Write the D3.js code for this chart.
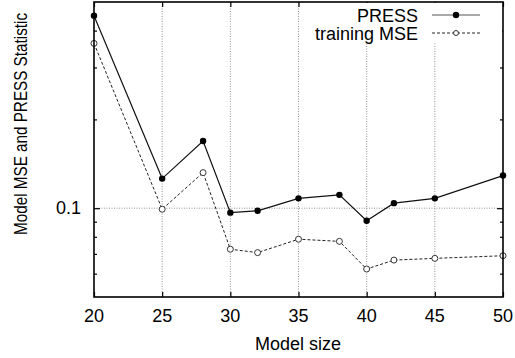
<!DOCTYPE html>
<html>
<head>
<meta charset="utf-8">
<script src="https://cdn.jsdelivr.net/npm/d3@7"></script>
<style>
  body { margin: 0; background: #fff; }
  text { font-family: "Liberation Sans", Arial, Helvetica, sans-serif; fill: #000; }
</style>
</head>
<body>
<div id="chart"></div>
<script>
var modelSize = [20, 25, 28, 30, 32, 35, 38, 40, 42, 45, 50];
var pressValues = [0.449, 0.126, 0.169, 0.0966, 0.098, 0.108, 0.111, 0.0907, 0.104, 0.108, 0.129];
var trainingValues = [0.362, 0.0992, 0.132, 0.0726, 0.0707, 0.0785, 0.0772, 0.0622, 0.0667, 0.0676, 0.069];
var xTicks = [20, 25, 30, 35, 40, 45, 50];
var yMajorTicks = [0.1];
var yMinorTicks = [0.06, 0.07, 0.08, 0.09, 0.2, 0.3, 0.4];

var W = 515, H = 358;
var plotLeft = 94, plotRight = 503, plotTop = 2, plotBottom = 297;

var svg = d3.select("#chart")
    .append("svg")
    .attr("width", W)
    .attr("height", H);

var x = d3.scaleLinear()
    .domain([20, 50])
    .range([plotLeft, plotRight]);

var y = d3.scaleLog()
    .domain([0.05, 0.5])
    .range([plotBottom, plotTop]);

// grid
var legendBottom = 43, legendLeft = 305;
svg.append("g")
    .selectAll("line")
    .data(xTicks.slice(1, -1))
    .enter()
    .append("line")
    .attr("x1", function (d) { return x(d); })
    .attr("x2", function (d) { return x(d); })
    .attr("y1", plotBottom)
    .attr("y2", function (d) { return x(d) > legendLeft ? legendBottom : plotTop; })
    .attr("stroke", "#777")
    .attr("stroke-width", 0.8)
    .attr("stroke-dasharray", "1,1.5");

svg.append("g")
    .selectAll("line")
    .data(yMajorTicks)
    .enter()
    .append("line")
    .attr("x1", plotLeft)
    .attr("x2", plotRight)
    .attr("y1", function (d) { return y(d); })
    .attr("y2", function (d) { return y(d); })
    .attr("stroke", "#777")
    .attr("stroke-width", 0.8)
    .attr("stroke-dasharray", "1,1.5");

// ticks (inside, both sides)
var xAxisB = d3.axisBottom(x).tickValues(xTicks).tickSize(-5).tickFormat("");
var xAxisT = d3.axisTop(x).tickValues(xTicks).tickSize(-5).tickFormat("");
svg.append("g").attr("transform", "translate(0," + plotBottom + ")").call(xAxisB);
svg.append("g").attr("transform", "translate(0," + plotTop + ")").call(xAxisT);

var yAxisL = d3.axisLeft(y).tickValues(yMajorTicks).tickSize(-6).tickFormat("");
var yAxisR = d3.axisRight(y).tickValues(yMajorTicks).tickSize(-6).tickFormat("");
var yMinL = d3.axisLeft(y).tickValues(yMinorTicks).tickSize(-3).tickFormat("");
var yMinR = d3.axisRight(y).tickValues(yMinorTicks).tickSize(-3).tickFormat("");
svg.append("g").attr("transform", "translate(" + plotLeft + ",0)").call(yAxisL);
svg.append("g").attr("transform", "translate(" + plotRight + ",0)").call(yAxisR);
svg.append("g").attr("transform", "translate(" + plotLeft + ",0)").call(yMinL);
svg.append("g").attr("transform", "translate(" + plotRight + ",0)").call(yMinR);
svg.selectAll(".domain").remove();
svg.selectAll(".tick line").attr("stroke", "#000").attr("stroke-width", 1.2);

// tick labels
svg.append("g")
    .selectAll("text")
    .data(xTicks)
    .enter()
    .append("text")
    .attr("x", function (d) { return x(d); })
    .attr("y", 322)
    .attr("text-anchor", "middle")
    .style("font-size", "18px")
    .text(function (d) { return d; });

svg.append("g")
    .selectAll("text")
    .data(yMajorTicks)
    .enter()
    .append("text")
    .attr("x", 81)
    .attr("y", function (d) { return y(d) + 6; })
    .attr("text-anchor", "end")
    .style("font-size", "18px")
    .text(function (d) { return d; });

// axis labels
svg.append("text")
    .attr("x", 298)
    .attr("y", 350)
    .attr("text-anchor", "middle")
    .style("font-size", "18px")
    .text("Model size");

svg.append("text")
    .attr("transform", "translate(27,124) rotate(-90)")
    .attr("text-anchor", "middle")
    .attr("textLength", 222)
    .attr("lengthAdjust", "spacingAndGlyphs")
    .style("font-size", "18px")
    .text("Model MSE and PRESS Statistic");

// legend background
svg.append("rect")
    .attr("x", legendLeft)
    .attr("y", plotTop + 1)
    .attr("width", plotRight - legendLeft - 1)
    .attr("height", legendBottom - plotTop - 1)
    .attr("fill", "#fff");

// series
var pressData = modelSize.map(function (d, i) { return [d, pressValues[i]]; });
var trainData = modelSize.map(function (d, i) { return [d, trainingValues[i]]; });

var line = d3.line()
    .x(function (d) { return x(d[0]); })
    .y(function (d) { return y(d[1]); });

svg.append("path")
    .datum(trainData)
    .attr("d", line)
    .attr("fill", "none")
    .attr("stroke", "#222")
    .attr("stroke-width", 1)
    .attr("stroke-dasharray", "3,2");

svg.append("path")
    .datum(pressData)
    .attr("d", line)
    .attr("fill", "none")
    .attr("stroke", "#111")
    .attr("stroke-width", 1.2);

svg.append("g")
    .selectAll("circle")
    .data(trainData)
    .enter()
    .append("circle")
    .attr("cx", function (d) { return x(d[0]); })
    .attr("cy", function (d) { return y(d[1]); })
    .attr("r", 3)
    .attr("fill", "#fff")
    .attr("stroke", "#333")
    .attr("stroke-width", 1);

svg.append("g")
    .selectAll("circle")
    .data(pressData)
    .enter()
    .append("circle")
    .attr("cx", function (d) { return x(d[0]); })
    .attr("cy", function (d) { return y(d[1]); })
    .attr("r", 3.2)
    .attr("fill", "#000");

// frame
svg.append("rect")
    .attr("x", plotLeft)
    .attr("y", plotTop)
    .attr("width", plotRight - plotLeft)
    .attr("height", plotBottom - plotTop)
    .attr("fill", "none")
    .attr("stroke", "#000")
    .attr("stroke-width", 1.6);

// legend
var legendItems = [
    { name: "PRESS", y: 15, dash: null, filled: true },
    { name: "training MSE", y: 33, dash: "3,2", filled: false }
];
var lg = svg.append("g");
legendItems.forEach(function (d) {
    lg.append("text")
        .attr("x", 418)
        .attr("y", d.y + 7)
        .attr("text-anchor", "end")
        .style("font-size", "18px")
        .text(d.name);
    lg.append("line")
        .attr("x1", 432)
        .attr("x2", 480)
        .attr("y1", d.y)
        .attr("y2", d.y)
        .attr("stroke", d.filled ? "#555" : "#222")
        .attr("stroke-width", d.filled ? 1.2 : 1)
        .attr("stroke-dasharray", d.dash);
    lg.append("circle")
        .attr("cx", 456)
        .attr("cy", d.y)
        .attr("r", d.filled ? 3.2 : 2.5)
        .attr("fill", d.filled ? "#000" : "#fff")
        .attr("stroke", d.filled ? "none" : "#333");
});
</script>
</body>
</html>
